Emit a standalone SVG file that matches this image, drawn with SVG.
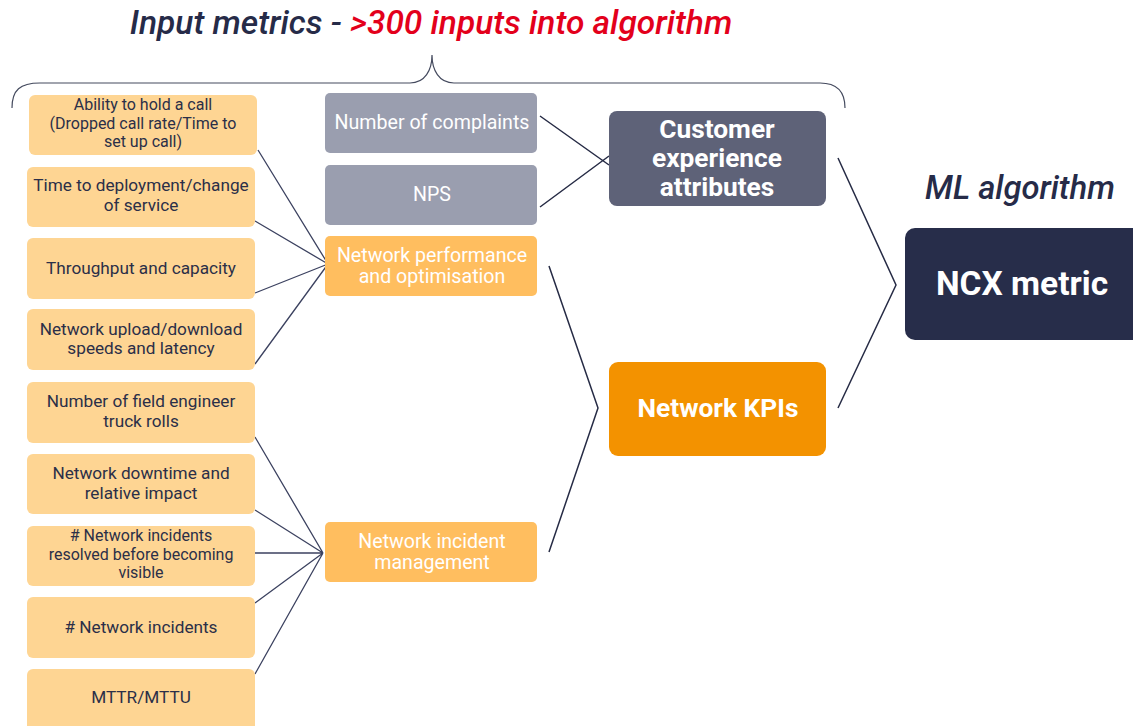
<svg xmlns="http://www.w3.org/2000/svg" width="1133" height="726" viewBox="0 0 1133 726">
<defs>
<style>
.lb{fill:#FED593}
.gb{fill:#9A9EAF}
.ob{fill:#FFBE5F}
.lt{font-family:Roboto,"Liberation Sans",sans-serif;font-size:17.2px;fill:#2B2F48;text-anchor:middle}
.lt3{font-family:Roboto,"Liberation Sans",sans-serif;font-size:16px;fill:#2B2F48;text-anchor:middle}
.mt{font-family:Roboto,"Liberation Sans",sans-serif;font-size:19.6px;fill:#FFFFFF;text-anchor:middle}
.bt{font-family:Roboto,"Liberation Sans",sans-serif;font-size:26.3px;font-weight:bold;fill:#FFFFFF;text-anchor:middle}
.ln{stroke:#3C4260;stroke-width:1.3;fill:none}
.ln2{stroke:#262B45;stroke-width:1.5;fill:none}
.ttl{font-family:Roboto,"Liberation Sans",sans-serif;font-size:33.5px;font-style:italic;font-weight:500}
</style>
</defs>
<rect width="1133" height="726" fill="#FFFFFF"/>

<text class="ttl" x="431" y="34" text-anchor="middle"><tspan fill="#262B48">Input metrics - </tspan><tspan fill="#E3001B">&gt;300 inputs into algorithm</tspan></text>
<text class="ttl" x="1020" y="199" text-anchor="middle" fill="#262B48" style="font-size:32.8px">ML algorithm</text>

<path id="brace" d="M12,108 C12,90 20,83 40,83 L410,83 C425,83 432,70 432,55 C432,70 439,83 454,83 L820,83 C838,83 845,92 845,108" fill="none" stroke="#444A5E" stroke-width="1.2"/>

<g id="connectors">
<path class="ln" d="M258,150 L328,264 M255,221 L328,264 M255,293 L328,264 M255,364 L328,264"/>
<path class="ln" d="M255,437 L323,553 M255,510 L323,553 M255,553 L323,553 M255,603 L323,553 M255,674 L323,553"/>
<path class="ln2" d="M540,116 L609,165 M540,207 L609,156"/>
<path class="ln2" d="M549,266 L598,408 L549,552"/>
<path class="ln2" d="M838,158 L896,285 L838,408"/>
</g>

<g id="n-ability"><rect class="lb" x="29" y="95" width="228" height="60" rx="6"/>
<text class="lt3" x="143" y="110">Ability to hold a call</text>
<text class="lt3" x="143" y="128.5">(Dropped call rate/Time to</text>
<text class="lt3" x="143" y="147">set up call)</text></g>

<g id="n-deploy"><rect class="lb" x="27" y="167" width="228" height="60" rx="6"/>
<text class="lt" x="141" y="191">Time to deployment/change</text>
<text class="lt" x="141" y="211">of service</text></g>

<g id="n-throughput"><rect class="lb" x="27" y="238" width="228" height="61" rx="6"/>
<text class="lt" x="141" y="274">Throughput and capacity</text></g>

<g id="n-speeds"><rect class="lb" x="27" y="309" width="228" height="61" rx="6"/>
<text class="lt" x="141" y="335">Network upload/download</text>
<text class="lt" x="141" y="354">speeds and latency</text></g>

<g id="n-truck"><rect class="lb" x="27" y="382" width="228" height="61" rx="6"/>
<text class="lt" x="141" y="407">Number of field engineer</text>
<text class="lt" x="141" y="427">truck rolls</text></g>

<g id="n-downtime"><rect class="lb" x="27" y="454" width="228" height="60" rx="6"/>
<text class="lt" x="141" y="479">Network downtime and</text>
<text class="lt" x="141" y="499">relative impact</text></g>

<g id="n-resolved"><rect class="lb" x="27" y="526" width="228" height="60" rx="6"/>
<text class="lt3" x="141" y="541">#&#160;Network incidents</text>
<text class="lt3" x="141" y="559.5">resolved before becoming</text>
<text class="lt3" x="141" y="578">visible</text></g>

<g id="n-incidents"><rect class="lb" x="27" y="597" width="228" height="61" rx="6"/>
<text class="lt" x="141" y="633">#&#160;Network incidents</text></g>

<g id="n-mttr"><rect class="lb" x="27" y="669" width="228" height="70" rx="6"/>
<text class="lt" x="141" y="703">MTTR/MTTU</text></g>

<g id="n-complaints"><rect class="gb" x="325" y="93" width="212" height="60" rx="5"/>
<text class="mt" x="432" y="129">Number of complaints</text></g>

<g id="n-nps"><rect class="gb" x="325" y="165" width="212" height="60" rx="5"/>
<text class="mt" x="432" y="201">NPS</text></g>

<g id="n-netperf"><rect class="ob" x="325" y="236" width="212" height="60" rx="5"/>
<text class="mt" x="432" y="262">Network performance</text>
<text class="mt" x="432" y="283">and optimisation</text></g>

<g id="n-incmgmt"><rect class="ob" x="325" y="522" width="212" height="60" rx="5"/>
<text class="mt" x="432" y="548">Network incident</text>
<text class="mt" x="432" y="569">management</text></g>

<g id="n-cx"><rect x="609" y="111" width="217" height="95" rx="8" fill="#5E6278"/>
<text class="bt" x="717" y="138">Customer</text>
<text class="bt" x="717" y="167">experience</text>
<text class="bt" x="717" y="196">attributes</text></g>

<g id="n-kpi"><rect x="609" y="362" width="217" height="94" rx="9" fill="#F39200"/>
<text class="bt" x="718" y="417">Network KPIs</text></g>

<g id="n-ncx"><rect x="905" y="228" width="240" height="112" rx="10" fill="#272D4A"/>
<text class="bt" x="1022" y="295" style="font-size:33.5px">NCX metric</text></g>
</svg>
